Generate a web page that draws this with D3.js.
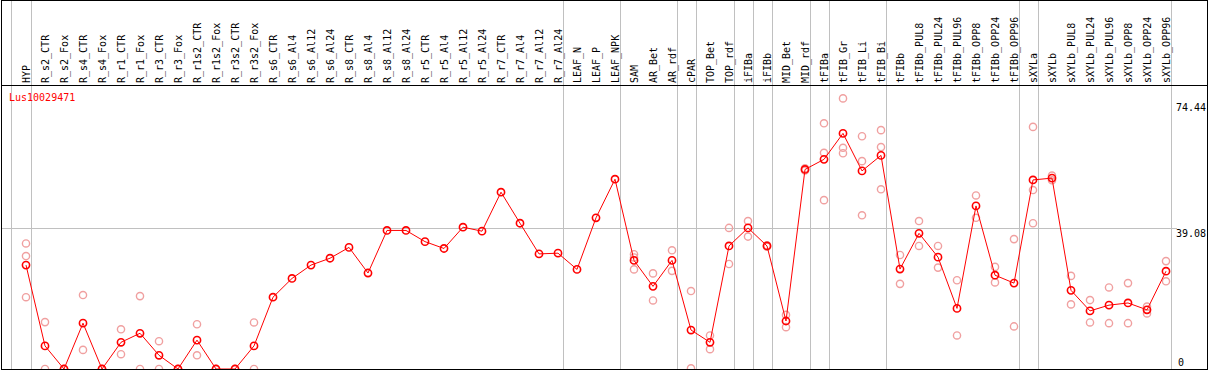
<!DOCTYPE html>
<html><head><meta charset="utf-8">
<script src="https://cdn.jsdelivr.net/npm/d3@7"></script>
<style>html,body{margin:0;padding:0;background:#fff;}svg{display:block;}text{font-family:"DejaVu Sans Mono",monospace;font-size:10px;}</style>
</head><body>
<script>
const geneName = "Lus10029471";
const categories = ["HYP","R_s2_CTR","R_s2_Fox","R_s4_CTR","R_s4_Fox","R_r1_CTR","R_r1_Fox","R_r3_CTR","R_r3_Fox","R_r1s2_CTR","R_r1s2_Fox","R_r3s2_CTR","R_r3s2_Fox","R_s6_CTR","R_s6_Al4","R_s6_Al12","R_s6_Al24","R_s8_CTR","R_s8_Al4","R_s8_Al12","R_s8_Al24","R_r5_CTR","R_r5_Al4","R_r5_Al12","R_r5_Al24","R_r7_CTR","R_r7_Al4","R_r7_Al12","R_r7_Al24","LEAF_N","LEAF_P","LEAF_NPK","SAM","AR_Bet","AR_rdf","cPAR","TOP_Bet","TOP_rdf","iFIBa","iFIBb","MID_Bet","MID_rdf","tFIBa","tFIB_Gr","tFIB_Li","tFIB_Bi","tFIBb","tFIBb_PUL8","tFIBb_PUL24","tFIBb_PUL96","tFIBb_OPP8","tFIBb_OPP24","tFIBb_OPP96","sXYLa","sXYLb","sXYLb_PUL8","sXYLb_PUL24","sXYLb_PUL96","sXYLb_OPP8","sXYLb_OPP24","sXYLb_OPP96"];
const means = [28.8,6.4,0,12.7,0,7.4,9.9,3.8,0,8.0,0,0,6.4,19.9,25.1,28.8,30.7,33.7,26.6,38.4,38.4,35.3,33.4,39.3,38.2,49.0,40.4,31.9,32.1,27.6,41.9,52.6,30.1,22.9,30.1,10.8,7.4,34.1,39.1,34.1,13.3,55.3,58.1,65.3,54.9,59.2,27.7,37.6,31.0,16.8,45.2,26.0,23.8,52.4,52.9,21.8,16.1,17.7,18.3,16.4,27.1];
const replicates = [[34.8,31.3,19.9],[13.0,0],[0,0],[20.5,5.3],[0,0],[11.0,4.1],[20.2,0],[7.7,0],[0,0],[12.4,3.8],[0,0],[0,0],[12.9,0],
[],[],[],[],[],[],[],[],[],[],[],[],[],[],[],[],[],[],[],
[31.8,30.9,27.6],[26.5,19.0],[32.9,27.2],[21.6,0.2],[9.3,5.5],[39.1,29.1],[41.0,36.7],[34.3,33.9],[15.0,11.6],[55.6,55.0],[68.1,59.9,46.8],[75.0,61.3,59.8],[64.5,57.6,42.6],[66.2,61.5,49.8],[31.6,23.6],[41.0,34.1],[34.1,28.1],[24.6,9.3],[48.1,41.9],[28.3,24.0],[36.0,11.8],[67.1,49.6,40.4],[53.6,52.3],[25.8,17.9],[19.1,12.9],[22.6,12.7],[23.8,12.7],[17.3,15.4],[29.9,24.3]];
const groupEnds = ["HYP","R_r7_Al24","LEAF_NPK","AR_rdf","cPAR","TOP_rdf","iFIBa","iFIBb","MID_rdf","tFIBa","tFIB_Bi","tFIBb_OPP96","sXYLa","sXYLb_OPP96"];
const yTicks = [0, 39.08, 74.44];

const W = 1209, H = 370;
const svg = d3.select("body").append("svg").attr("width", W).attr("height", H);
const x = d3.scalePoint().domain(categories).range([26, 1166]);
const y = d3.scaleLinear().domain([0, 74.44]).range([369, 100.4]);

svg.append("defs").append("clipPath").attr("id","plotclip")
  .append("rect").attr("x",1).attr("y",86).attr("width",1206).attr("height",283);

// vertical group separators
const seps = [x(categories[0]) - 14.5].concat(groupEnds.map(c => Math.round(x(c)) + 5.5));
svg.selectAll("line.sep").data(seps).enter().append("line")
  .attr("x1", d => d).attr("x2", d => d).attr("y1", 0).attr("y2", H)
  .attr("stroke", "#c0c0c0").attr("stroke-width", 1);

// horizontal reference line
svg.append("line").attr("x1", 1).attr("x2", 1177)
  .attr("y1", Math.round(y(39.08)) + 0.5).attr("y2", Math.round(y(39.08)) + 0.5)
  .attr("stroke", "#c0c0c0").attr("stroke-width", 1);

// header labels
svg.selectAll("text.cat").data(categories).enter().append("text")
  .attr("transform", d => `translate(${x(d)},83) rotate(-90)`)
  .attr("dy", "0.36em").attr("fill", "#000").text(d => d);

// frame
const frame = svg.append("g").attr("stroke", "#000").attr("stroke-width", 1);
frame.append("line").attr("x1",1).attr("x2",1208).attr("y1",0.5).attr("y2",0.5);
frame.append("line").attr("x1",1.5).attr("x2",1.5).attr("y1",0).attr("y2",370);
frame.append("line").attr("x1",1207.5).attr("x2",1207.5).attr("y1",0).attr("y2",370);
frame.append("line").attr("x1",1).attr("x2",1208).attr("y1",85.5).attr("y2",85.5);

const plot = svg.append("g").attr("clip-path","url(#plotclip)");

// replicate points
const repPts = [];
replicates.forEach((arr, i) => arr.forEach(v => repPts.push({c: categories[i], v})));
plot.selectAll("circle.rep").data(repPts).enter().append("circle")
  .attr("cx", d => x(d.c)).attr("cy", d => y(d.v)).attr("r", 3.6)
  .attr("fill", "none").attr("stroke", "#f0a0a0").attr("stroke-width", 1.4);

// mean line
const pts = categories.map((c, i) => ({c, v: means[i]}));
plot.append("path").datum(pts)
  .attr("d", d3.line().x(d => x(d.c)).y(d => y(d.v)))
  .attr("fill", "none").attr("stroke", "#ff0000").attr("stroke-width", 1);
plot.selectAll("circle.mean").data(pts).enter().append("circle")
  .attr("cx", d => x(d.c)).attr("cy", d => y(d.v)).attr("r", 3.6)
  .attr("fill", "none").attr("stroke", "#ff0000").attr("stroke-width", 1.6);

// bottom line
svg.append("line").attr("x1",1).attr("x2",1208).attr("y1",369.5).attr("y2",369.5)
  .attr("stroke","#000").attr("stroke-width",1);

// right value labels
svg.append("text").attr("x", 1206).attr("y", 111).attr("text-anchor","end").attr("fill","#000").text(yTicks[2].toFixed(2));
svg.append("text").attr("x", 1206).attr("y", 237).attr("text-anchor","end").attr("fill","#000").text(yTicks[1].toFixed(2));
svg.append("text").attr("x", 1178).attr("y", 366).attr("text-anchor","start").attr("fill","#000").text(String(yTicks[0]));

// gene label
svg.append("text").attr("x", 9).attr("y", 101).attr("fill", "#ff0000").text(geneName);
</script>
</body></html>
